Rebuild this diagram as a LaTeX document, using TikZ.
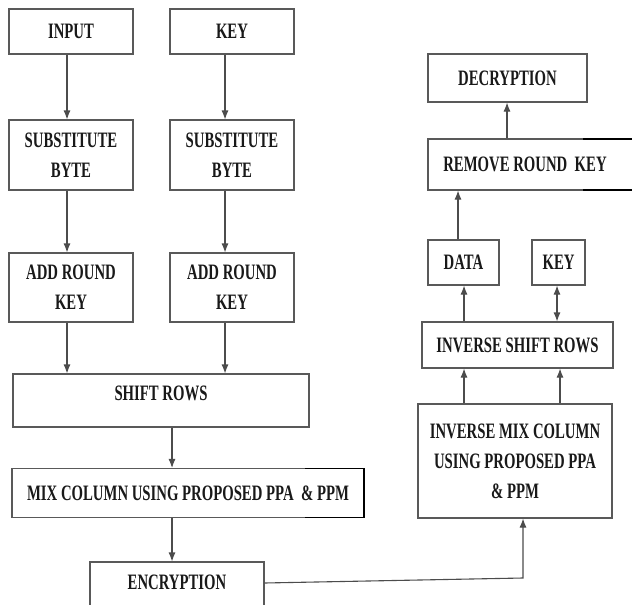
\documentclass[tikz,border=0pt]{standalone}
\usepackage{fontspec}
\setmainfont{Liberation Serif}[FakeStretch=0.67]
\usetikzlibrary{arrows.meta}
\tikzset{
  box/.style={draw=black!65, line width=1.1pt, rectangle, inner sep=0pt, align=center,
    font=\fontsize{22}{30}\selectfont\bfseries, text=black!90},
  arr/.style={draw=black!70, line width=1.1pt, -{Latex[length=9pt,width=7pt]}},
  darr/.style={draw=black!70, line width=1.1pt, {Latex[length=9pt,width=7pt]}-{Latex[length=9pt,width=7pt]}},
  heavy/.style={draw=black, line width=1.8pt}
}
\begin{document}
\begin{tikzpicture}[x=1pt,y=-1pt]
\clip (0,0) rectangle (632,605);
\fill[white] (0,0) rectangle (632,605);
% left encryption chain
\node[box, minimum width=124pt, minimum height=45pt] (input) at (71,31.5) {INPUT};
\node[box, minimum width=124pt, minimum height=45pt] (key1) at (232,31.5) {KEY};
\node[box, minimum width=124pt, minimum height=70pt] (sub1) at (71,155) {SUBSTITUTE\\BYTE};
\node[box, minimum width=124pt, minimum height=70pt] (sub2) at (232,155) {SUBSTITUTE\\BYTE};
\node[box, minimum width=124pt, minimum height=69pt] (add1) at (71,287.5) {ADD ROUND\\KEY};
\node[box, minimum width=124pt, minimum height=69pt] (add2) at (232,287.5) {ADD ROUND\\KEY};
\node[box, minimum width=296pt, minimum height=53pt, text depth=14pt] (shift) at (161,400.5) {SHIFT ROWS};
\node[box, minimum width=352pt, minimum height=49pt] (mix) at (188,493) {MIX COLUMN USING PROPOSED PPA \ \& PPM};
\node[box, minimum width=174pt, minimum height=50pt, text depth=10pt] (enc) at (177,587) {ENCRYPTION};
% decryption chain
\node[box, minimum width=194pt, minimum height=114pt] (invmix) at (515,461) {INVERSE MIX COLUMN\\USING PROPOSED PPA\\\& PPM};
\node[box, minimum width=191pt, minimum height=46pt] (invshift) at (517.5,345) {INVERSE SHIFT ROWS};
\node[box, minimum width=71pt, minimum height=45pt] (data) at (463.5,262.5) {DATA};
\node[box, minimum width=53pt, minimum height=45pt] (key2) at (558.5,262.5) {KEY};
\node[box, minimum width=220pt, minimum height=51pt,
  label={[font=\fontsize{22}{30}\selectfont\bfseries, text=black!90, xshift=-13pt]center:REMOVE ROUND \ KEY}] (remove) at (538,164.5) {};
\node[box, minimum width=159pt, minimum height=48pt] (dec) at (507.5,78) {DECRYPTION};
% heavy segments
\draw[heavy] (305,468.5) -- (364,468.5) -- (364,517.5) -- (305,517.5);
\draw[heavy] (583,139) -- (632,139);
\draw[heavy] (583,190) -- (632,190);
% column coordinates
\coordinate (cL) at (67,0);
\coordinate (cR) at (225,0);
\coordinate (cM) at (172,0);
\coordinate (cA) at (464,0);
\coordinate (cB) at (560,0);
\coordinate (cK) at (557,0);
\coordinate (cD) at (458,0);
\coordinate (cE) at (507,0);
\coordinate (bend) at (523,578);
% connectors
\draw[arr] (input.south -| cL) -- (sub1.north -| cL);
\draw[arr] (key1.south -| cR) -- (sub2.north -| cR);
\draw[arr] (sub1.south -| cL) -- (add1.north -| cL);
\draw[arr] (sub2.south -| cR) -- (add2.north -| cR);
\draw[arr] (add1.south -| cL) -- (shift.north -| cL);
\draw[arr] (add2.south -| cR) -- (shift.north -| cR);
\draw[arr] (shift.south -| cM) -- (mix.north -| cM);
\draw[arr] (mix.south -| cM) -- (enc.north -| cM);
\draw[arr] (enc.east |- 0,583) -- (bend) -- (invmix.south -| bend);
\draw[arr] (invmix.north -| cA) -- (invshift.south -| cA);
\draw[arr] (invmix.north -| cB) -- (invshift.south -| cB);
\draw[arr] (invshift.north -| cA) -- (data.south -| cA);
\draw[darr] (invshift.north -| cK) -- (key2.south -| cK);
\draw[arr] (data.north -| cD) -- (remove.south -| cD);
\draw[arr] (remove.north -| cE) -- (dec.south -| cE);
\end{tikzpicture}
\end{document}
